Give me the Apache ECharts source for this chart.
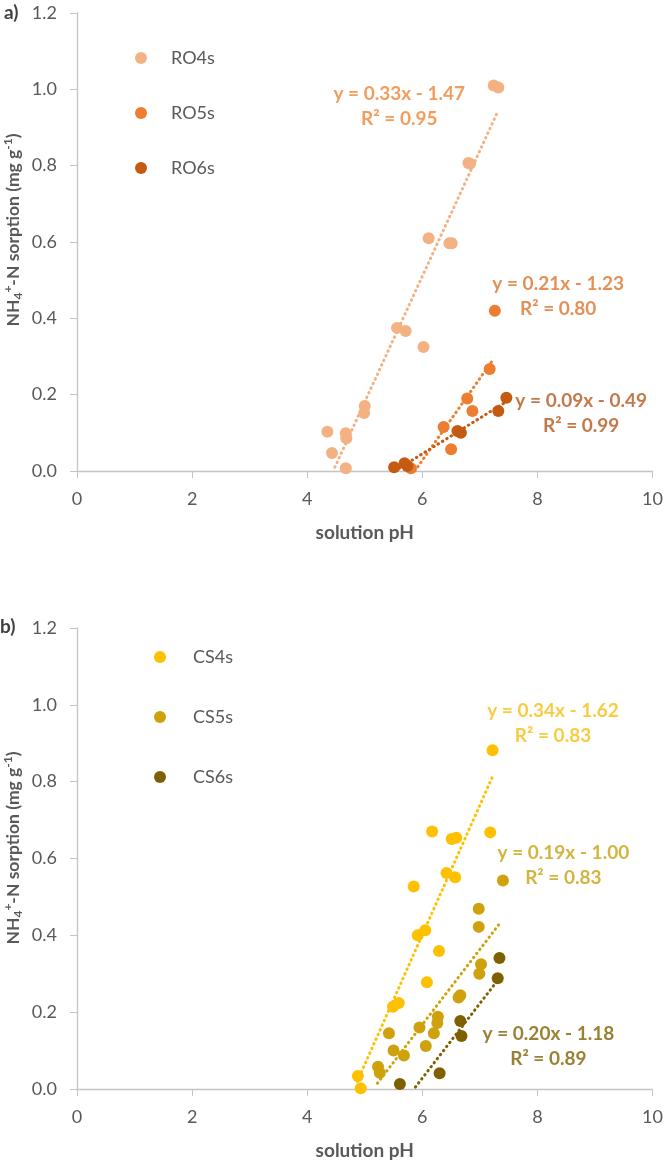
<!DOCTYPE html>
<html><head><meta charset="utf-8">
<script src="https://cdn.jsdelivr.net/npm/echarts@6/dist/echarts.min.js"></script>
<style>html,body{margin:0;padding:0;background:#fff}#c{width:666px;height:1162px}</style>
</head><body><div id="c"></div>
<script>
// ---- data: panel a (RO) ----
const ro4s = [[7.24,1.01],[7.32,1.005],[6.80,0.807],[6.83,0.805],[6.11,0.61],[6.47,0.597],[6.51,0.597],
  [5.56,0.375],[5.71,0.367],[6.02,0.325],[5.00,0.17],[4.99,0.152],[4.35,0.103],[4.67,0.099],[4.68,0.086],
  [4.43,0.047],[4.67,0.007]];
const ro5s = [[7.26,0.42],[7.17,0.267],[6.78,0.19],[6.87,0.157],[6.37,0.115],[6.50,0.057],[5.80,0.007]];
const ro6s = [[7.46,0.192],[7.32,0.157],[6.61,0.105],[6.67,0.10],[5.51,0.01],[5.69,0.02],[5.74,0.013]];
const ro4sTrend = [[4.48,0.01],[7.32,0.945]];
const ro5sTrend = [[5.87,0.0],[7.22,0.29]];
const ro6sTrend = [[5.52,0.0],[7.42,0.178]];
// ---- data: panel b (CS) ----
const cs4s = [[7.22,0.882],[6.17,0.67],[6.51,0.651],[6.59,0.654],[7.18,0.668],[5.85,0.527],[6.42,0.562],
  [6.57,0.551],[5.92,0.40],[6.05,0.413],[6.29,0.359],[6.08,0.278],[5.49,0.214],[5.59,0.224],[4.88,0.034],[4.93,0.002]];
const cs5s = [[7.40,0.543],[6.98,0.469],[6.98,0.422],[7.02,0.325],[6.99,0.30],[6.63,0.238],[6.66,0.244],
  [6.27,0.188],[6.26,0.172],[5.95,0.16],[6.20,0.145],[5.42,0.145],[6.06,0.112],[5.50,0.10],[5.68,0.087],
  [5.23,0.058],[5.26,0.042]];
const cs6s = [[7.34,0.341],[7.31,0.288],[6.66,0.177],[6.68,0.138],[6.30,0.041],[5.61,0.013]];
const cs4sTrend = [[4.87,0.02],[7.21,0.81]];
const cs5sTrend = [[5.22,0.015],[7.37,0.436]];
const cs6sTrend = [[5.88,0.005],[7.31,0.283]];
// ---- equation labels: [x, y, equation, r2] ----
const eqA = [[5.60,0.955,'y = 0.33x - 1.47','0.95'],[8.36,0.458,'y = 0.21x - 1.23','0.80'],[8.76,0.152,'y = 0.09x - 0.49','0.99']];
const eqB = [[8.27,0.953,'y = 0.34x - 1.62','0.83'],[8.45,0.583,'y = 0.19x - 1.00','0.83'],[8.19,0.11,'y = 0.20x - 1.18','0.89']];
const xTicks = [0,2,4,6,8,10];
const yTicks = [0,0.2,0.4,0.6,0.8,1.0,1.2];

const FONT = 'Lato';
const GREY = '#595959';
const colA = ['#F4B183','#ED7D31','#C55A11'];
const eqColA = ['#EE8535','#D9742C','#B3561B'];
const colB = ['#FFC000','#CFA10C','#7F6000'];
const eqColB = ['#F9BE10','#C9A010','#7F6000'];

function xAxis(gi){return {gridIndex:gi,type:'value',min:0,max:10,interval:2,
  axisLine:{show:true,lineStyle:{color:'#C4C4C4',width:1.3}},axisTick:{show:true,length:7,lineStyle:{color:'#C4C4C4'}},
  splitLine:{show:false},axisLabel:{color:GREY,fontFamily:FONT,fontSize:18,margin:19},
  name:'solution pH',nameLocation:'middle',nameGap:52,nameTextStyle:{color:GREY,fontFamily:FONT,fontSize:19,fontWeight:'bold'}};}
function yAxis(gi){return {gridIndex:gi,type:'value',min:0,max:1.2,interval:0.2,
  axisLine:{show:true,lineStyle:{color:'#C4C4C4',width:1.3}},axisTick:{show:true,length:7,lineStyle:{color:'#C4C4C4'}},
  splitLine:{show:false},axisLabel:{color:GREY,fontFamily:FONT,fontSize:18,margin:20,formatter:v=>v.toFixed(1)}};}
function scat(name,data,color,gi){return {name,type:'scatter',xAxisIndex:gi,yAxisIndex:gi,data,symbol:'circle',symbolSize:12,
  itemStyle:{color,opacity:1},z:3,emphasis:{disabled:true}};}
function trend(data,color,gi){return {type:'line',xAxisIndex:gi,yAxisIndex:gi,data,symbol:'none',silent:true,
  lineStyle:{color,width:3,type:[0.5,4.6],cap:'round'},z:2};}
function eqs(arr,colors,gi){return {type:'scatter',xAxisIndex:gi,yAxisIndex:gi,symbolSize:1,silent:true,
  itemStyle:{color:'rgba(0,0,0,0)'},z:4,
  data:arr.map((d,i)=>({value:[d[0],d[1]],label:{color:colors[i]}, eq:d[2], r2:d[3]})),
  label:{show:true,position:'inside',fontFamily:FONT,fontSize:19,fontWeight:'bold',lineHeight:25,align:'center',
    formatter:p=>p.data.eq+'\nR\u00B2 = '+p.data.r2}};}
const yTitleRich = {
  b:{fontFamily:FONT,fontSize:17.5,fontWeight:'bold',color:GREY,lineHeight:22},
  sup:{fontFamily:FONT,fontSize:12,fontWeight:'bold',color:GREY,lineHeight:12,verticalAlign:'top'},
  sub:{fontFamily:FONT,fontSize:12,fontWeight:'bold',color:GREY,lineHeight:12,verticalAlign:'bottom'}
};
const yTitleText = '{b|NH}{sub|4}{sup|+}{b|-N sorption (mg g}{sup|-1}{b|)}';
function yTitle(y){return {type:'text',x:13,y:y,rotation:Math.PI/2,
  style:{text:yTitleText,rich:yTitleRich,align:'center',verticalAlign:'middle',fill:GREY}};}
function legend(names,left,top,gap,pad){return {data:names,orient:'vertical',left,top,padding:0,itemWidth:12,itemHeight:12,itemGap:gap,
  icon:'circle',textStyle:{color:GREY,fontFamily:FONT,fontSize:18,padding:[0,0,0,pad]},selectedMode:false};}

const chart = echarts.init(document.getElementById('c'),null,{renderer:'canvas'});
chart.setOption({
  animation:false,
  grid:[{left:77,top:13,width:579,height:458},{left:77,top:628,width:579,height:461}],
  xAxis:[xAxis(0),xAxis(1)],
  yAxis:[yAxis(0),yAxis(1)],
  legend:[legend(['RO4s','RO5s','RO6s'],135,49,37,19),legend(['CS4s','CS5s','CS6s'],154,648,42,22)],
  graphic:[
    yTitle(230), yTitle(848),
    {type:'text',x:4,y:13,style:{text:'a)',font:'bold 19px Lato',fill:'#404040',verticalAlign:'middle'}},
    {type:'text',x:0,y:627,style:{text:'b)',font:'bold 19px Lato',fill:'#404040',verticalAlign:'middle'}}
  ],
  series:[
    trend(ro4sTrend,colA[0],0),trend(ro5sTrend,colA[1],0),trend(ro6sTrend,colA[2],0),
    scat('RO4s',ro4s,colA[0],0),scat('RO5s',ro5s,colA[1],0),scat('RO6s',ro6s,colA[2],0),
    eqs(eqA,eqColA,0),
    trend(cs4sTrend,colB[0],1),trend(cs5sTrend,colB[1],1),trend(cs6sTrend,colB[2],1),
    scat('CS4s',cs4s,colB[0],1),scat('CS5s',cs5s,colB[1],1),scat('CS6s',cs6s,colB[2],1),
    eqs(eqB,eqColB,1)
  ]
});
</script></body></html>
